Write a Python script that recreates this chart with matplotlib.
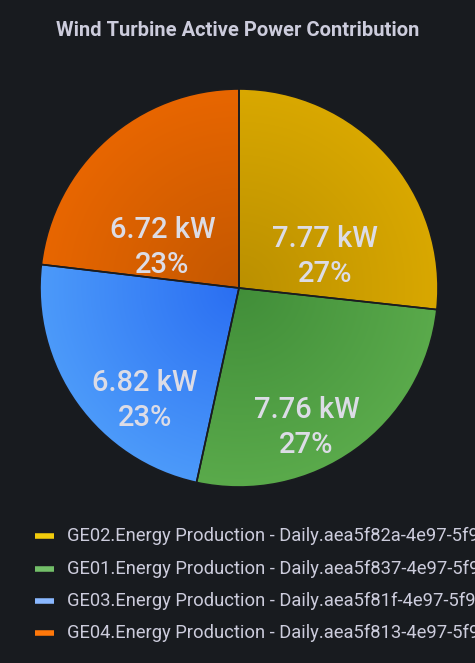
import matplotlib
matplotlib.use("Agg")
import matplotlib.pyplot as plt
import numpy as np
from matplotlib.colors import to_rgb

plt.rcParams['font.family'] = ['Roboto', 'DejaVu Sans']

title = "Wind Turbine Active Power Contribution"
series = ["GE02.Energy Production - Daily.aea5f82a-4e97-5f9",
          "GE01.Energy Production - Daily.aea5f837-4e97-5f9",
          "GE03.Energy Production - Daily.aea5f81f-4e97-5f9",
          "GE04.Energy Production - Daily.aea5f813-4e97-5f9"]
values = [7.77, 7.76, 6.82, 6.72]
pct_labels = ["27%", "27%", "23%", "23%"]
inner_colors = ["#bb9000", "#418e39", "#2a6ef2", "#c45800"]
outer_colors = ["#d9a800", "#5aaa4b", "#4c9afa", "#e86600"]
legend_colors = ["#f2cc0c", "#73bf69", "#8ab8ff", "#ff780a"]

bg = "#181b1f"
txt = "#ccccdc"

fig = plt.figure(figsize=(4.75, 6.63), dpi=100, facecolor=bg)

# title
fig.text(0.5, 1 - 30 / 663, title, ha="center", va="center",
         fontsize=14.5, fontweight="bold", color=txt)

# pie
W, H = 475, 663
cx, cy, r = 239, 288, 201
ax = fig.add_axes([(cx - r) / W, 1 - (cy + r) / H, 2 * r / W, 2 * r / H])
ax.set_facecolor(bg)
labels = [f"{v:.2f} kW\n{p}" for v, p in zip(values, pct_labels)]
wedges, texts = ax.pie(values, colors=inner_colors, startangle=90, counterclock=False,
                       labels=labels, labeldistance=0.58,
                       wedgeprops=dict(edgecolor="#1a1c20", linewidth=1.2),
                       textprops=dict(color="#dcdce6", fontsize=21, ha="center",
                                      va="center", linespacing=1.3,
                                      fontweight="medium"))

# radial gradient fill per wedge
n = 400
xs = np.linspace(-1, 1, n)
X, Y = np.meshgrid(xs, xs)
R = np.clip(np.sqrt(X ** 2 + Y ** 2), 0, 1)[..., None]
for w, ci, co in zip(wedges, inner_colors, outer_colors):
    img = (1 - R) * np.array(to_rgb(ci)) + R * np.array(to_rgb(co))
    im = ax.imshow(img, extent=[-1, 1, -1, 1], origin="lower", zorder=1.5,
                   interpolation="bilinear")
    im.set_clip_path(w)
    w.set_facecolor("none")
    w.set_zorder(2)

for t in texts:
    x, y = t.get_position()
    t.set_position((x, y - 0.23))
    t.set_zorder(3)

ax.set_aspect("equal")
ax.set_xlim(-1.01, 1.01)
ax.set_ylim(-1.01, 1.01)
ax.axis("off")

# legend
lax = fig.add_axes([0, 0, 1, 1])
lax.set_xlim(0, W)
lax.set_ylim(H, 0)
lax.axis("off")
ys = [536, 569, 601, 633]
for y, c, s in zip(ys, legend_colors, series):
    lax.plot([35, 54], [y, y], color=c, lw=4, solid_capstyle="butt")
    lax.text(67, y, s, color=txt, fontsize=13.2, va="center", ha="left")

fig.savefig("out.png", dpi=100, facecolor=bg)
